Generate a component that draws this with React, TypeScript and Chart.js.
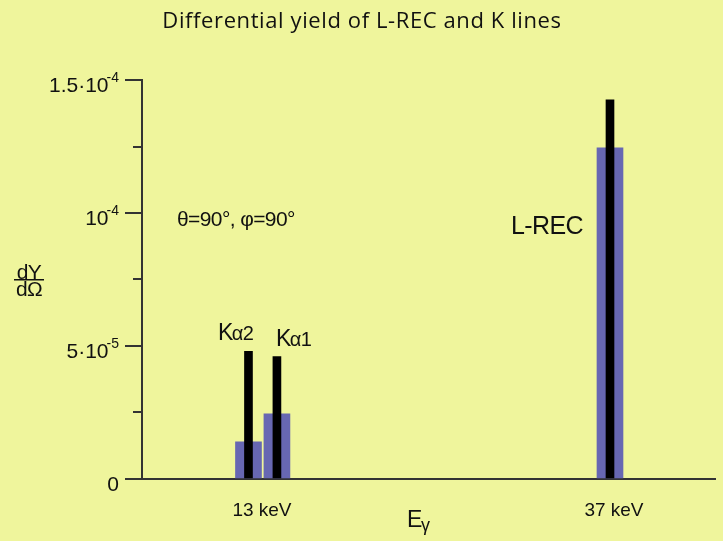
import { useEffect, useRef } from "react";
import { Chart, registerables } from "chart.js";

Chart.register(...registerables);

// Emission lines: photon energy (keV) and differential yield dY/dΩ
const lineNames = ["Kα2", "Kα1", "L-REC"];
const lineEnergies = [12.08, 14.02, 36.73];
const yieldBlue = [1.4e-5, 2.45e-5, 1.245e-4];
const yieldBlack = [4.8e-5, 4.6e-5, 1.425e-4];

// Axis ticks
const energyTicks = [13, 37];
const energyTickLabels = ["13 keV", "37 keV"];
const yieldTicks = [0, 5e-5, 1e-4, 1.5e-4];
const yieldTickMantissa = ["0", "5·10", "10", "1.5·10"];
const yieldTickExponent = ["", "-5", "-4", "-4"];
const yieldMinorStep = 2.5e-5;

const BG = "#eff59c";
const AXIS = "#333333";
const SANS = "'Liberation Sans', Arial, sans-serif";

const majorIndex = (v: number) => yieldTicks.findIndex((t) => Math.abs(t - v) < 1e-9);

const textPlugin = {
  id: "textPlugin",
  beforeDraw(chart: any) {
    const ctx = chart.ctx;
    ctx.save();
    ctx.fillStyle = BG;
    ctx.fillRect(0, 0, chart.width, chart.height);
    ctx.restore();
  },
  afterDraw(chart: any) {
    const ctx = chart.ctx as CanvasRenderingContext2D;
    const y = chart.scales.y;
    const left = chart.chartArea.left;
    ctx.save();

    // minor ticks on the yield axis
    ctx.strokeStyle = AXIS;
    ctx.lineWidth = 2;
    for (let v = 0; v <= y.max + 1e-12; v += yieldMinorStep) {
      if (majorIndex(v) >= 0) continue;
      const py = Math.round(y.getPixelForValue(v));
      ctx.beginPath();
      ctx.moveTo(left - 9, py);
      ctx.lineTo(left, py);
      ctx.stroke();
    }

    ctx.fillStyle = "#111";
    ctx.textBaseline = "alphabetic";

    // yield tick labels with raised exponents
    (ctx as any).letterSpacing = "0px";
    ctx.textAlign = "left";
    const labelRight = left - 23;
    yieldTicks.forEach((v, i) => {
      const py = y.getPixelForValue(v);
      const base = yieldTickMantissa[i];
      const exp = yieldTickExponent[i];
      ctx.font = `21px ${SANS}`;
      const wb = ctx.measureText(base).width;
      ctx.font = `14px ${SANS}`;
      const we = exp ? ctx.measureText(exp).width : 0;
      const x0 = labelRight - wb - we + (exp ? 2 : 0);
      ctx.font = `21px ${SANS}`;
      ctx.fillText(base, x0, py + 11.5);
      if (exp) {
        ctx.font = `14px ${SANS}`;
        ctx.fillText(exp, x0 + wb - 2, py + 1.5);
      }
    });

    // title
    (ctx as any).letterSpacing = "0.6px";
    ctx.font = "22px 'Open Sans', sans-serif";
    ctx.textAlign = "center";
    ctx.fillText("Differential yield of L-REC and K lines", 362, 28);

    (ctx as any).letterSpacing = "-0.6px";
    ctx.textAlign = "left";

    // emission angles
    ctx.font = `21px ${SANS}`;
    ctx.fillText("θ=90°, φ=90°", 177, 226);

    // line labels
    ctx.font = `25px ${SANS}`;
    ctx.fillText(lineNames[2], 511, 234);

    const subLabel = (main: string, sub: string, x: number, base: number) => {
      ctx.font = `23px ${SANS}`;
      ctx.fillText(main, x, base);
      const w = ctx.measureText(main).width;
      ctx.font = `20px ${SANS}`;
      ctx.fillText(sub, x + w - 1, base);
    };
    subLabel("K", "α2", 218, 340);
    subLabel("K", "α1", 276, 346);

    // x axis title
    ctx.font = `23px ${SANS}`;
    ctx.fillText("E", 407, 527);
    ctx.font = `18px ${SANS}`;
    ctx.fillText("γ", 421, 531);

    // y axis title as a fraction
    ctx.font = `21px ${SANS}`;
    ctx.textAlign = "center";
    ctx.fillText("dY", 29, 279);
    ctx.fillText("dΩ", 29, 296);
    ctx.fillRect(14, 279, 30, 1.5);

    ctx.restore();
  },
};

export default function App() {
  const canvasRef = useRef<HTMLCanvasElement>(null);

  useEffect(() => {
    if (!canvasRef.current) return;
    const chart = new Chart(canvasRef.current, {
      type: "bar",
      data: {
        datasets: [
          {
            label: "black",
            data: lineEnergies.map((x, i) => ({ x, y: yieldBlack[i] })),
            backgroundColor: "#000000",
            barThickness: 8,
            order: 0,
          },
          {
            label: "blue",
            data: lineEnergies.map((x, i) => ({ x, y: yieldBlue[i] })),
            backgroundColor: "#6767b2",
            barThickness: 26,
            order: 1,
          },
        ],
      },
      options: {
        animation: false,
        responsive: false,
        devicePixelRatio: 1,
        layout: { padding: { top: 80, right: 8, left: 0, bottom: 0 } },
        datasets: { bar: { grouped: false } } as any,
        plugins: {
          legend: { display: false },
          tooltip: { enabled: false },
          title: { display: false },
        },
        scales: {
          x: {
            type: "linear",
            offset: false,
            min: 4.82,
            max: 43.89,
            afterBuildTicks: (scale: any) => {
              scale.ticks = energyTicks.map((value) => ({ value }));
            },
            afterFit: (scale: any) => {
              scale.height = 62;
            },
            grid: { display: false, offset: false },
            border: { display: true, color: AXIS, width: 2 },
            ticks: {
              color: "#111",
              padding: 12,
              maxRotation: 0,
              font: { family: SANS, size: 19 },
              callback: (v: any) => {
                const i = energyTicks.indexOf(Number(v));
                return i >= 0 ? energyTickLabels[i] : "";
              },
            },
          },
          y: {
            type: "linear",
            min: 0,
            max: 1.5e-4,
            afterFit: (scale: any) => {
              scale.width = 142;
            },
            grid: {
              drawOnChartArea: false,
              drawTicks: true,
              tickLength: 17,
              lineWidth: 2,
              tickColor: (c: any) => (c.tick && majorIndex(c.tick.value) >= 0 ? AXIS : "rgba(0,0,0,0)"),
            },
            border: { display: true, color: AXIS, width: 2 },
            ticks: {
              display: false,
              stepSize: yieldMinorStep,
            },
          },
        },
      },
      plugins: [textPlugin],
    });
    return () => chart.destroy();
  }, []);

  return (
    <div style={{ position: "fixed", left: 0, top: 0, width: 723, height: 541, background: BG }}>
      <canvas ref={canvasRef} width={723} height={541} style={{ display: "block" }} />
    </div>
  );
}
